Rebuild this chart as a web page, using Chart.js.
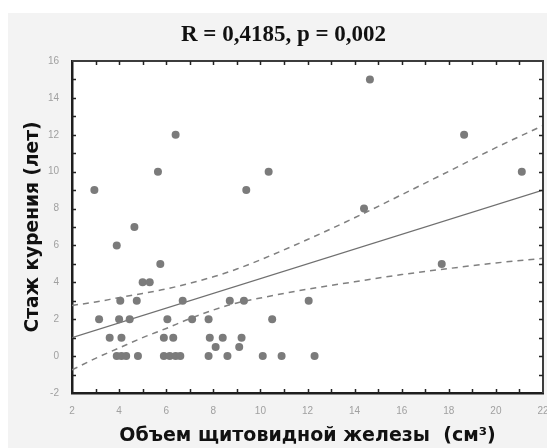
<!DOCTYPE html>
<html>
<head>
<meta charset="utf-8">
<script src="https://cdn.jsdelivr.net/npm/chart.js@4/dist/chart.umd.min.js"></script>
<style>
	html, body { margin: 0; padding: 0; background: #fff; }
	#wrap { width: 547px; height: 448px; }
</style>
</head>
<body>
<div id="wrap"><canvas id="chart"></canvas></div>
<script>
// observations: thyroid volume (cm3) vs smoking years
const volumeX = [
	14.65,
	6.4, 18.65,
	5.65, 10.35, 21.1,
	2.95, 9.4,
	14.4,
	4.65,
	3.9,
	5.75, 17.7,
	5.0, 5.3,
	4.05, 4.75, 6.7, 8.7, 9.3, 12.05,
	3.15, 4.0, 4.45, 6.05, 7.1, 7.8, 10.5,
	3.6, 4.1, 5.9, 6.3, 7.85, 8.4, 9.2,
	8.1, 9.1,
	3.9, 4.1, 4.3, 4.8, 5.9, 6.15, 6.4, 6.6, 7.8, 8.6, 10.1, 10.9, 12.3,
];
const smokingYears = [
	15,
	12, 12,
	10, 10, 10,
	9, 9,
	8,
	7,
	6,
	5, 5,
	4, 4,
	3, 3, 3, 3, 3, 3,
	2, 2, 2, 2, 2, 2, 2,
	1, 1, 1, 1, 1, 1, 1,
	0.5, 0.5,
	0, 0, 0, 0, 0, 0, 0, 0, 0, 0, 0, 0, 0,
];

// regression line and 95% band
const fitX = [2, 22];
const fitY = [1.0, 9.0];
const bandX = [2, 3, 4, 5, 6, 7, 8, 9, 10, 12, 14, 16, 18, 20, 22];
const upperY = [2.75, 2.93, 3.17, 3.4, 3.64, 3.95, 4.3, 4.72, 5.22, 6.32, 7.5, 8.75, 10.02, 11.3, 12.5];
const lowerY = [-0.75, -0.12, 0.44, 1.0, 1.5, 2.03, 2.5, 2.88, 3.15, 3.63, 4.03, 4.42, 4.75, 5.05, 5.3];

const xTicks = [2, 4, 6, 8, 10, 12, 14, 16, 18, 20, 22];
const yTicks = [-2, 0, 2, 4, 6, 8, 10, 12, 14, 16];

const toPoints = (xs, ys) => xs.map((x, i) => ({ x, y: ys[i] }));

const framePlugin = {
	id: "frame",
	beforeDraw(chart) {
		const { ctx, chartArea: a } = chart;
		ctx.save();
		ctx.fillStyle = "#ffffff";
		ctx.fillRect(0, 0, chart.width, chart.height);
		ctx.fillStyle = "#f3f3f3";
		ctx.fillRect(8, 13, chart.width - 8, chart.height - 13);
		ctx.fillStyle = "#ffffff";
		ctx.fillRect(a.left, a.top, a.right - a.left, a.bottom - a.top);
		ctx.restore();
	},
	afterDraw(chart) {
		const { ctx, chartArea: a, scales } = chart;
		const x = scales.x, y = scales.y;
		ctx.save();
		ctx.strokeStyle = "#3c3c3c";
		ctx.lineWidth = 2;
		ctx.beginPath();
		ctx.moveTo(a.left, a.top);
		ctx.lineTo(a.right, a.top);
		ctx.lineTo(a.right, a.bottom);
		ctx.stroke();
		// inner tick marks on all four sides, one per unit
		ctx.strokeStyle = "#222";
		ctx.lineWidth = 1.5;
		ctx.beginPath();
		for (let v = x.min + 1; v < x.max; v++) {
			const px = Math.round(x.getPixelForValue(v)) + 0.5;
			ctx.moveTo(px, a.bottom);
			ctx.lineTo(px, a.bottom - 4);
			ctx.moveTo(px, a.top);
			ctx.lineTo(px, a.top + 4);
		}
		for (let v = y.min + 1; v < y.max; v++) {
			const py = Math.round(y.getPixelForValue(v)) + 0.5;
			ctx.moveTo(a.left, py);
			ctx.lineTo(a.left + 4, py);
			ctx.moveTo(a.right, py);
			ctx.lineTo(a.right - 4, py);
		}
		ctx.stroke();
		ctx.restore();
	},
};

const tickFont = { family: "Liberation Sans", size: 10 };
const titleFont = { family: "DejaVu Sans", weight: "bold" };

new Chart(document.getElementById("chart"), {
	type: "scatter",
	data: {
		datasets: [
			{
				label: "points",
				data: toPoints(volumeX, smokingYears),
				backgroundColor: "#7b7b7b",
				borderWidth: 0,
				pointRadius: 4,
				pointHoverRadius: 4,
			},
			{
				label: "fit",
				data: toPoints(fitX, fitY),
				showLine: true,
				borderColor: "#707070",
				borderWidth: 1.4,
				pointRadius: 0,
			},
			{
				label: "upper",
				data: toPoints(bandX, upperY),
				showLine: true,
				borderColor: "#808080",
				borderWidth: 1.5,
				borderDash: [6, 5],
				cubicInterpolationMode: "monotone",
				pointRadius: 0,
			},
			{
				label: "lower",
				data: toPoints(bandX, lowerY),
				showLine: true,
				borderColor: "#808080",
				borderWidth: 1.5,
				borderDash: [6, 5],
				cubicInterpolationMode: "monotone",
				pointRadius: 0,
			},
		],
	},
	options: {
		responsive: true,
		maintainAspectRatio: false,
		animation: false,
		layout: { padding: { left: 22, right: 2, top: 8, bottom: 0 } },
		plugins: {
			legend: { display: false },
			tooltip: { enabled: false },
			title: {
				display: true,
				text: "R = 0,4185, p = 0,002",
				color: "#111",
				font: { family: "Liberation Serif", size: 23, weight: "bold" },
				padding: { top: 13.7, bottom: 11.7 },
			},
		},
		scales: {
			x: {
				type: "linear",
				min: 2,
				max: 22,
				afterBuildTicks: (s) => { s.ticks = xTicks.map((v) => ({ value: v })); },
				afterFit: (s) => { s.height = 55; s.paddingRight = 0; },
				grid: { display: false },
				border: { display: true, color: "#1e1e1e", width: 2.5 },
				ticks: { color: "#a0a0a0", font: tickFont, padding: 4, maxRotation: 0, autoSkip: false },
				title: {
					display: true,
					text: "Объем щитовидной железы  (см³)",
					color: "#111",
					font: { ...titleFont, size: 19 },
					padding: { top: 0, bottom: 1 },
				},
			},
			y: {
				type: "linear",
				min: -2,
				max: 16,
				afterBuildTicks: (s) => { s.ticks = yTicks.map((v) => ({ value: v })); },
				afterFit: (s) => { s.width = 50; },
				grid: { display: false },
				border: { display: true, color: "#1e1e1e", width: 2.5 },
				ticks: { color: "#a0a0a0", font: tickFont, padding: 5, autoSkip: false },
				title: {
					display: true,
					text: "Стаж курения (лет)",
					color: "#111",
					font: { ...titleFont, size: 18.6 },
					padding: { top: 0, bottom: 0 },
				},
			},
		},
	},
	plugins: [framePlugin],
});
</script>
</body>
</html>
